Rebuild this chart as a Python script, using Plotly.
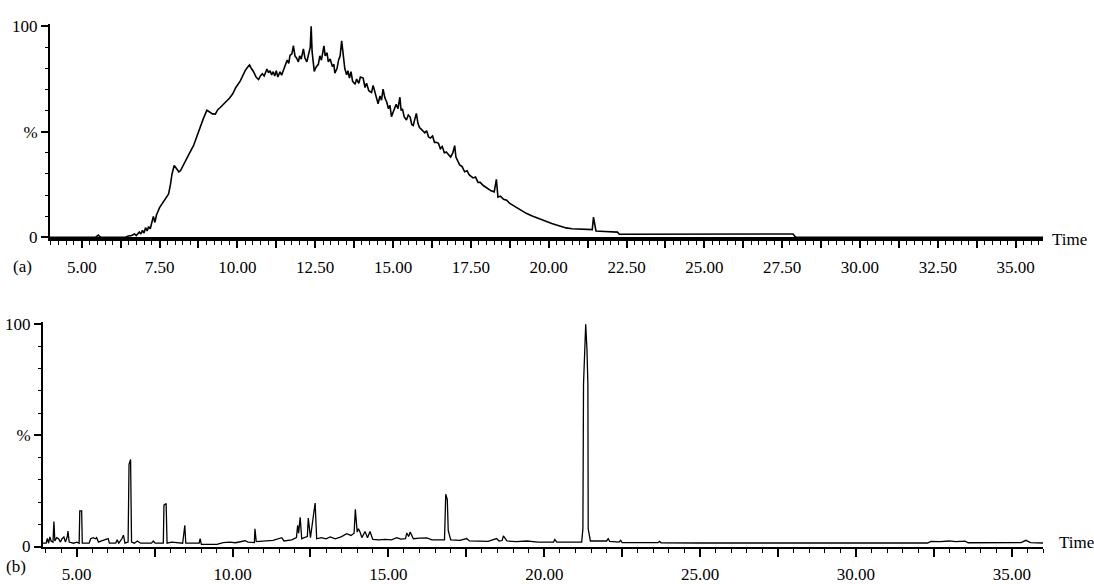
import plotly.graph_objects as go

# ---------------- Panel (a): total ion chromatogram ----------------
t_a = [3.98, 5.45, 5.53, 5.60, 6.40, 6.50, 6.60, 6.70, 6.75, 6.85, 6.90, 6.95, 7.00, 7.05, 7.10,
       7.15, 7.20, 7.30, 7.35, 7.40, 7.50, 7.58, 7.65, 7.70, 7.79, 7.85, 7.90, 7.97, 8.05,
       8.12, 8.17, 8.25, 8.35, 8.45, 8.59, 8.70, 8.80, 8.90, 9.02, 9.10, 9.20, 9.29, 9.37,
       9.45, 9.55, 9.66, 9.75, 9.85, 9.95, 10.09, 10.18, 10.25, 10.32, 10.39, 10.45, 10.52,
       10.60, 10.68, 10.74, 10.80, 10.86, 10.95, 11.00, 11.05, 11.10, 11.15, 11.20, 11.25,
       11.30, 11.37, 11.42, 11.50, 11.55, 11.60, 11.65, 11.69, 11.75, 11.80, 11.85, 11.90,
       11.96, 12.00, 12.05, 12.12, 12.17, 12.23, 12.30, 12.34, 12.37, 12.40, 12.47, 12.52,
       12.60, 12.65, 12.70, 12.78, 12.82, 12.88, 12.92, 12.98, 13.05, 13.10, 13.13, 13.20,
       13.25, 13.30, 13.35, 13.40, 13.45, 13.51, 13.55, 13.60, 13.65, 13.70, 13.78, 13.83,
       13.90, 13.95, 14.04, 14.10, 14.15, 14.22, 14.31, 14.36, 14.40, 14.46, 14.52, 14.58,
       14.63, 14.68, 14.74, 14.80, 14.85, 14.90, 14.95, 15.02, 15.10, 15.16, 15.22, 15.26,
       15.30, 15.36, 15.43, 15.49, 15.55, 15.60, 15.65, 15.70, 15.75, 15.80, 15.85, 15.92,
       16.02, 16.08, 16.14, 16.20, 16.27, 16.33, 16.39, 16.46, 16.52, 16.58, 16.65, 16.71,
       16.78, 16.85, 16.92, 16.98, 17.02, 17.08, 17.14, 17.22, 17.30, 17.38, 17.45, 17.57,
       17.65, 17.73, 17.80, 17.90, 18.00, 18.08, 18.15, 18.25, 18.32, 18.37, 18.45, 18.55,
       18.65, 18.75, 18.85, 18.95, 19.05, 19.15, 19.28, 19.45, 19.60, 19.75, 19.92, 20.10,
       20.25, 20.40, 20.56, 20.75, 20.90, 21.10, 21.31, 21.40, 21.44, 21.48, 21.52, 21.80,
       22.21, 22.27, 27.75, 27.85, 27.92, 27.95, 35.88]
v_a = [0.0, 0.0, 1.0, 0.0, 0.0, 0.6, 0.8, 1.5, 0.8, 2.5, 1.5, 3.2, 2.0, 4.5, 3.0,
       5.0, 4.0, 9.8, 7.0, 10.5, 14.0, 15.9, 17.5, 19.0, 20.5, 25.0, 30.0, 34.0, 32.5,
       31.0, 31.5, 34.0, 37.0, 39.5, 43.4, 48.0, 52.0, 56.0, 60.2, 59.5, 58.5, 58.4, 60.5,
       61.5, 63.0, 64.5, 66.0, 68.0, 71.0, 74.0, 77.0, 79.0, 80.5, 81.7, 80.0, 78.5,
       76.0, 74.8, 76.5, 77.5, 76.5, 79.8, 78.0, 79.0, 77.0, 78.5, 76.5, 79.0,
       76.0, 78.5, 76.8, 79.5, 82.0, 84.0, 82.5, 86.2, 87.0, 90.8, 86.0, 85.0,
       83.2, 86.0, 84.5, 89.3, 85.0, 83.2, 88.0, 90.0, 100.0, 88.0, 78.6, 80.5,
       82.0, 86.0, 84.0, 90.8, 86.0, 87.5, 83.2, 84.5, 81.0, 82.0, 77.8, 80.0,
       84.0, 86.0, 93.1, 86.0, 80.0, 77.0, 79.0, 75.5, 78.5, 74.0, 72.5, 75.0,
       73.0, 76.0, 75.5, 71.0, 73.0, 69.5, 68.7, 72.0, 70.0, 66.0, 63.3, 67.0,
       65.0, 70.2, 66.0, 64.0, 61.0, 62.5, 57.2, 60.0, 63.0, 61.0, 66.4, 60.0,
       61.0, 57.0, 55.6, 58.0, 57.0, 53.5, 53.0, 56.0, 58.7, 54.0, 52.0, 51.0,
       49.5, 50.5, 47.5, 47.0, 48.0, 45.0, 45.0, 44.5, 42.0, 43.0, 40.0, 40.4,
       39.0, 38.0, 40.0, 43.4, 38.0, 36.0, 34.3, 33.5, 31.0, 31.5, 29.5, 28.1,
       28.5, 26.0, 26.0, 24.5, 23.5, 23.0, 22.0, 21.5, 27.4, 19.0, 19.5, 18.0,
       17.5, 16.0, 15.1, 14.5, 13.5, 12.5, 11.3, 10.2, 9.3, 8.4, 7.5, 6.5,
       5.8, 5.0, 4.4, 4.0, 3.9, 3.6, 3.4, 3.6, 9.5, 6.0, 2.9, 2.7,
       2.4, 1.4, 1.2, 1.5, 0.2, 0.0, 0.0]

# ---------------- Panel (b): extracted chromatogram ----------------
t_b = [3.92, 4.02, 4.06, 4.10, 4.14, 4.18, 4.24, 4.27, 4.30, 4.36, 4.42, 4.48, 4.53, 4.59,
       4.64, 4.70, 4.72, 4.76, 4.90, 5.00, 5.08, 5.10, 5.16, 5.18, 5.40, 5.45, 5.53, 5.60,
       5.64, 5.70, 5.80, 6.01, 6.05, 6.25, 6.30, 6.35, 6.45, 6.50, 6.55, 6.65, 6.68, 6.73,
       6.76, 6.85, 6.95, 7.05, 7.40, 7.46, 7.52, 7.78, 7.80, 7.87, 7.90, 8.05, 8.40, 8.44,
       8.47, 8.50, 8.93, 8.96, 9.00, 9.50, 9.70, 9.90, 10.10, 10.40, 10.50, 10.70, 10.72,
       10.76, 11.00, 11.30, 11.58, 11.65, 11.90, 12.05, 12.09, 12.12, 12.17, 12.22, 12.30,
       12.40, 12.43, 12.50, 12.59, 12.65, 12.70, 12.85, 13.00, 13.13, 13.30, 13.50, 13.66,
       13.80, 13.90, 13.94, 14.00, 14.04, 14.09, 14.15, 14.25, 14.33, 14.41, 14.50, 14.70,
       14.90, 15.10, 15.27, 15.40, 15.55, 15.59, 15.65, 15.70, 15.80, 16.00, 16.23, 16.40,
       16.70, 16.80, 16.84, 16.89, 16.92, 17.00, 17.30, 17.51, 17.60, 17.90, 18.20, 18.47,
       18.55, 18.65, 18.69, 18.80, 19.10, 19.44, 19.80, 20.30, 20.34, 20.40, 21.20, 21.24,
       21.26, 21.33, 21.37, 21.40, 21.41, 21.48, 22.00, 22.05, 22.10, 22.40, 22.45, 22.50,
       23.65, 23.70, 23.75, 25.00, 30.00, 32.30, 32.40, 32.70, 33.00, 33.20, 33.50, 33.60,
       35.30, 35.45, 35.60, 36.00]
v_b = [1.5, 1.5, 3.6, 1.5, 4.3, 2.5, 2.0, 11.2, 2.5, 4.0, 3.5, 2.0, 3.5, 4.3,
       2.0, 4.5, 7.0, 2.0, 1.5, 2.0, 1.5, 16.0, 16.0, 1.5, 1.5, 3.5, 4.0, 3.5,
       4.0, 2.0, 2.5, 3.6, 1.5, 1.5, 3.0, 1.5, 3.5, 5.1, 1.5, 2.0, 37.0, 39.2,
       2.0, 1.5, 2.5, 1.5, 1.5, 2.5, 1.5, 1.5, 18.6, 19.3, 1.5, 2.0, 1.5, 5.4,
       9.5, 1.5, 1.5, 3.6, 1.0, 1.0, 1.8, 2.0, 1.7, 2.6, 2.0, 1.8, 8.0,
       2.2, 2.5, 2.8, 4.0, 2.5, 3.0, 4.0, 9.5, 6.0, 13.1, 3.5, 4.0,
       4.5, 12.8, 4.0, 13.4, 19.6, 3.5, 4.0, 3.5, 4.3, 3.5, 4.5, 5.8,
       5.0, 6.0, 16.7, 6.5, 8.0, 6.5, 4.0, 6.8, 4.0, 6.8, 3.2, 3.0,
       3.2, 3.0, 4.0, 3.3, 3.5, 6.1, 4.5, 6.5, 3.5, 3.8, 3.9, 3.0,
       3.0, 3.0, 23.5, 21.1, 7.2, 3.0, 2.8, 3.6, 2.5, 2.3, 2.3, 3.6,
       2.5, 2.7, 4.8, 2.5, 2.2, 2.5, 2.0, 2.0, 3.2, 2.0, 2.0, 8.0,
       73.0, 100.0, 88.7, 73.0, 8.0, 2.5, 2.5, 3.5, 2.3, 2.0, 2.8, 1.8,
       1.8, 2.3, 1.7, 1.6, 1.6, 1.6, 2.3, 2.2, 2.5, 2.2, 2.4, 1.7,
       1.8, 2.8, 1.8, 1.6]

# ---------------- tick labels ----------------
xa_tickvals = [5.0 + 1.25 * i for i in range(25)]
xa_ticktext = ["%.2f" % v if i % 2 == 0 else "" for i, v in enumerate(xa_tickvals)]
xb_tickvals = [5.0 + 2.5 * i for i in range(13)]
xb_ticktext = ["%.2f" % v if i % 2 == 0 else "" for i, v in enumerate(xb_tickvals)]
y_tickvals = [0, 50, 100]
y_ticktext = ["0", "%", "100"]

W, H = 1094, 584
FONT = "Liberation Serif, Times New Roman, serif"

def px_x(p):
    return p / W

def px_y(p):
    return (H - p) / H

fig = go.Figure()
fig.add_trace(go.Scatter(x=t_a, y=v_a, xaxis="x", yaxis="y", mode="lines",
                         line=dict(color="black", width=1.6), hoverinfo="skip"))
fig.add_trace(go.Scatter(x=t_b, y=v_b, xaxis="x2", yaxis="y2", mode="lines",
                         line=dict(color="black", width=1.3), hoverinfo="skip"))

common_ax = dict(showgrid=False, zeroline=False, showline=True, linecolor="black",
                 ticks="outside", tickcolor="black", tickfont=dict(family=FONT, size=17, color="black"))

fig.update_layout(
    width=W, height=H, margin=dict(l=0, r=0, t=0, b=0),
    paper_bgcolor="white", plot_bgcolor="white", showlegend=False,
    xaxis=dict(domain=[px_x(50), px_x(1043)], range=[3.98, 35.88], anchor="y",
               linewidth=4, tickvals=xa_tickvals, ticktext=xa_ticktext, ticklen=7, tickwidth=1.5,
               ticklabelstandoff=4,
               minor=dict(tickmode="linear", tick0=0, dtick=0.25, ticklen=4, tickwidth=1,
                          tickcolor="black", ticks="outside"),
               **common_ax),
    yaxis=dict(domain=[px_y(237.5), px_y(237.5 - 101 * 2.175)], range=[0, 101], anchor="x",
               linewidth=2, tickvals=y_tickvals, ticktext=y_ticktext, ticklen=7, tickwidth=1.5,
               minor=dict(tickmode="linear", tick0=0, dtick=10, ticklen=3, tickwidth=1,
                          tickcolor="black", ticks="outside"),
               **common_ax),
    xaxis2=dict(domain=[px_x(43), px_x(1043)], range=[3.92, 36.0], anchor="y2",
                linewidth=2, tickvals=xb_tickvals, ticktext=xb_ticktext, ticklen=8, tickwidth=1.5,
                ticklabelstandoff=3,
                minor=dict(tickmode="linear", tick0=0, dtick=0.5, ticklen=4, tickwidth=1,
                           tickcolor="black", ticks="outside"),
                **common_ax),
    yaxis2=dict(domain=[px_y(556.7), px_y(556.7 - 101 * 2.294)], range=[0, 101], anchor="x2",
                linewidth=2, tickvals=y_tickvals, ticktext=y_ticktext, ticklen=7, tickwidth=1.5,
                minor=dict(tickmode="linear", tick0=0, dtick=10, ticklen=3, tickwidth=1,
                           tickcolor="black", ticks="outside"),
                **common_ax),
)

ann_font = dict(family=FONT, size=17, color="black")
for txt, x, y, xa in [("(a)", 22, 268, "center"), ("(b)", 16, 577, "center"),
                      ("Time", 1050, 240, "left"), ("Time", 1057, 553, "left")]:
    fig.add_annotation(text=txt, x=px_x(x), y=px_y(y), xref="paper", yref="paper",
                       xanchor=xa, yanchor="middle", showarrow=False, font=ann_font)

fig.write_html("out.html")
